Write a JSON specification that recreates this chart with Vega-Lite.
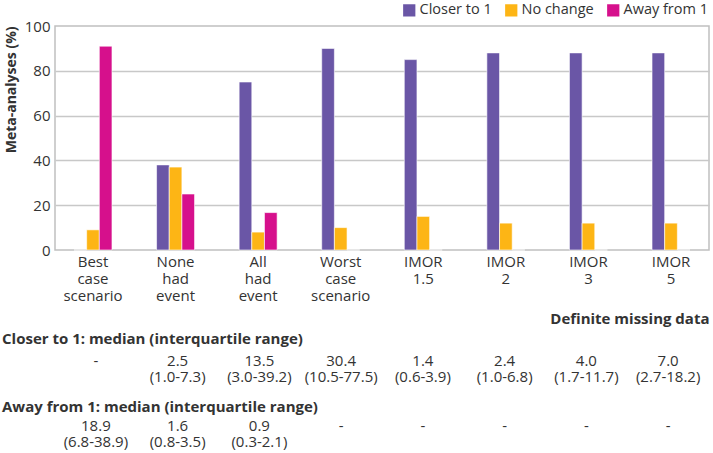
{
  "$schema": "https://vega.github.io/schema/vega-lite/v6.json",
  "padding": {"left": 2, "top": 2, "right": 1, "bottom": 0},
  "background": "white",
  "config": {
    "font": "Open Sans",
    "view": {"stroke": null},
    "text": {"color": "#333333"}
  },
  "datasets": {
    "bars": [
      {"scenario": "Best|case|scenario", "change": "Closer to 1", "pct": 0},
      {"scenario": "Best|case|scenario", "change": "No change", "pct": 9},
      {"scenario": "Best|case|scenario", "change": "Away from 1", "pct": 91},
      {"scenario": "None|had|event", "change": "Closer to 1", "pct": 38},
      {"scenario": "None|had|event", "change": "No change", "pct": 37},
      {"scenario": "None|had|event", "change": "Away from 1", "pct": 25},
      {"scenario": "All|had|event", "change": "Closer to 1", "pct": 75},
      {"scenario": "All|had|event", "change": "No change", "pct": 8},
      {"scenario": "All|had|event", "change": "Away from 1", "pct": 16.7},
      {"scenario": "Worst|case|scenario", "change": "Closer to 1", "pct": 90},
      {"scenario": "Worst|case|scenario", "change": "No change", "pct": 10},
      {"scenario": "Worst|case|scenario", "change": "Away from 1", "pct": 0},
      {"scenario": "IMOR|1.5", "change": "Closer to 1", "pct": 85},
      {"scenario": "IMOR|1.5", "change": "No change", "pct": 15},
      {"scenario": "IMOR|1.5", "change": "Away from 1", "pct": 0},
      {"scenario": "IMOR|2", "change": "Closer to 1", "pct": 88},
      {"scenario": "IMOR|2", "change": "No change", "pct": 12},
      {"scenario": "IMOR|2", "change": "Away from 1", "pct": 0},
      {"scenario": "IMOR|3", "change": "Closer to 1", "pct": 88},
      {"scenario": "IMOR|3", "change": "No change", "pct": 12},
      {"scenario": "IMOR|3", "change": "Away from 1", "pct": 0},
      {"scenario": "IMOR|5", "change": "Closer to 1", "pct": 88},
      {"scenario": "IMOR|5", "change": "No change", "pct": 12},
      {"scenario": "IMOR|5", "change": "Away from 1", "pct": 0}
    ],
    "closer": [
      {"scenario": "Best|case|scenario", "line": "a", "text": "-"},
      {"scenario": "None|had|event", "line": "a", "text": "2.5"},
      {"scenario": "None|had|event", "line": "b", "text": "(1.0-7.3)"},
      {"scenario": "All|had|event", "line": "a", "text": "13.5"},
      {"scenario": "All|had|event", "line": "b", "text": "(3.0-39.2)"},
      {"scenario": "Worst|case|scenario", "line": "a", "text": "30.4"},
      {"scenario": "Worst|case|scenario", "line": "b", "text": "(10.5-77.5)"},
      {"scenario": "IMOR|1.5", "line": "a", "text": "1.4"},
      {"scenario": "IMOR|1.5", "line": "b", "text": "(0.6-3.9)"},
      {"scenario": "IMOR|2", "line": "a", "text": "2.4"},
      {"scenario": "IMOR|2", "line": "b", "text": "(1.0-6.8)"},
      {"scenario": "IMOR|3", "line": "a", "text": "4.0"},
      {"scenario": "IMOR|3", "line": "b", "text": "(1.7-11.7)"},
      {"scenario": "IMOR|5", "line": "a", "text": "7.0"},
      {"scenario": "IMOR|5", "line": "b", "text": "(2.7-18.2)"}
    ],
    "away": [
      {"scenario": "Best|case|scenario", "line": "a", "text": "18.9"},
      {"scenario": "Best|case|scenario", "line": "b", "text": "(6.8-38.9)"},
      {"scenario": "None|had|event", "line": "a", "text": "1.6"},
      {"scenario": "None|had|event", "line": "b", "text": "(0.8-3.5)"},
      {"scenario": "All|had|event", "line": "a", "text": "0.9"},
      {"scenario": "All|had|event", "line": "b", "text": "(0.3-2.1)"},
      {"scenario": "Worst|case|scenario", "line": "a", "text": "-"},
      {"scenario": "IMOR|1.5", "line": "a", "text": "-"},
      {"scenario": "IMOR|2", "line": "a", "text": "-"},
      {"scenario": "IMOR|3", "line": "a", "text": "-"},
      {"scenario": "IMOR|5", "line": "a", "text": "-"}
    ]
  },
  "resolve": {
    "scale": {"x": "independent", "y": "independent", "color": "independent"},
    "legend": {"color": "independent"}
  },
  "spacing": 5,
  "vconcat": [
    {
      "width": 654,
      "height": 224,
      "view": {"stroke": "#c0c0c0", "strokeWidth": 1.5},
      "layer": [
        {
          "data": {"name": "bars"},
          "mark": {"type": "bar", "stroke": "white", "strokeWidth": 0.6},
          "encoding": {
            "x": {
              "field": "scenario", "type": "nominal",
              "sort": ["Best|case|scenario", "None|had|event", "All|had|event", "Worst|case|scenario", "IMOR|1.5", "IMOR|2", "IMOR|3", "IMOR|5"],
              "scale": {"paddingInner": 0.54, "paddingOuter": 0.23},
              "axis": {
                "labelExpr": "split(datum.label, '|')",
                "labelAngle": 0, "labelFontSize": 15, "labelColor": "#333333", "labelLineHeight": 17,
                "labelPadding": 4, "domain": false, "ticks": false, "grid": false,
                "title": "Definite missing data", "titleFontSize": 15, "titleFontWeight": "bold",
                "titleColor": "#333333", "titleAnchor": "end", "titlePadding": 8
              }
            },
            "xOffset": {
              "field": "change", "type": "nominal",
              "sort": ["Closer to 1", "No change", "Away from 1"],
              "scale": {"paddingInner": 0, "paddingOuter": 0}
            },
            "y": {
              "field": "pct", "type": "quantitative",
              "scale": {"domain": [0, 100], "nice": false},
              "axis": {
                "values": [0, 20, 40, 60, 80, 100],
                "grid": true, "gridColor": "#c8c8c8", "gridWidth": 1.5,
                "gridOpacity": {"condition": {"test": "datum.value == 0 || datum.value == 100", "value": 0}, "value": 1},
                "domain": false, "ticks": false,
                "labelFontSize": 15, "labelColor": "#333333", "labelPadding": 5,
                "title": "Meta-analyses (%)", "titleFontSize": 14, "titleFontWeight": "bold",
                "titleColor": "#333333", "titleAnchor": "end", "titlePadding": 6
              }
            },
            "color": {
              "field": "change", "type": "nominal",
              "sort": ["Closer to 1", "No change", "Away from 1"],
              "scale": {"domain": ["Closer to 1", "No change", "Away from 1"], "range": ["#6a56a6", "#fdb515", "#d6108c"]},
              "legend": {
                "orient": "none", "legendX": 347, "legendY": -23, "direction": "horizontal",
                "title": null, "symbolType": "square", "symbolSize": 150, "symbolStrokeWidth": 0,
                "labelFontSize": 14.5, "labelColor": "#333333", "columnPadding": 12, "labelOffset": 3
              }
            }
          }
        }
      ]
    },
    {
      "spacing": 15,
      "resolve": {"scale": {"x": "independent", "y": "independent"}},
      "vconcat": [
        {
          "width": 654,
          "height": 32,
          "title": {"text": "Closer to 1: median (interquartile range)", "anchor": "start", "dx": -53, "fontSize": 15, "fontWeight": "bold", "color": "#333333", "offset": 6},
          "data": {"name": "closer"},
          "mark": {"type": "text", "fontSize": 15, "color": "#333333"},
          "encoding": {
            "x": {
              "field": "scenario", "type": "nominal",
              "sort": ["Best|case|scenario", "None|had|event", "All|had|event", "Worst|case|scenario", "IMOR|1.5", "IMOR|2", "IMOR|3", "IMOR|5"],
              "scale": {"paddingInner": 0.54, "paddingOuter": 0.23},
              "axis": null
            },
            "y": {"field": "line", "type": "nominal", "scale": {"domain": ["a", "b"], "paddingInner": 0, "paddingOuter": 0}, "axis": null},
            "text": {"field": "text"}
          }
        },
        {
          "width": 654,
          "height": 32,
          "title": {"text": "Away from 1: median (interquartile range)", "anchor": "start", "dx": -53, "fontSize": 15, "fontWeight": "bold", "color": "#333333", "offset": 3},
          "data": {"name": "away"},
          "mark": {"type": "text", "fontSize": 15, "color": "#333333"},
          "encoding": {
            "x": {
              "field": "scenario", "type": "nominal",
              "sort": ["Best|case|scenario", "None|had|event", "All|had|event", "Worst|case|scenario", "IMOR|1.5", "IMOR|2", "IMOR|3", "IMOR|5"],
              "scale": {"paddingInner": 0.54, "paddingOuter": 0.23},
              "axis": null
            },
            "y": {"field": "line", "type": "nominal", "scale": {"domain": ["a", "b"], "paddingInner": 0, "paddingOuter": 0}, "axis": null},
            "text": {"field": "text"}
          }
        }
      ]
    }
  ]
}
